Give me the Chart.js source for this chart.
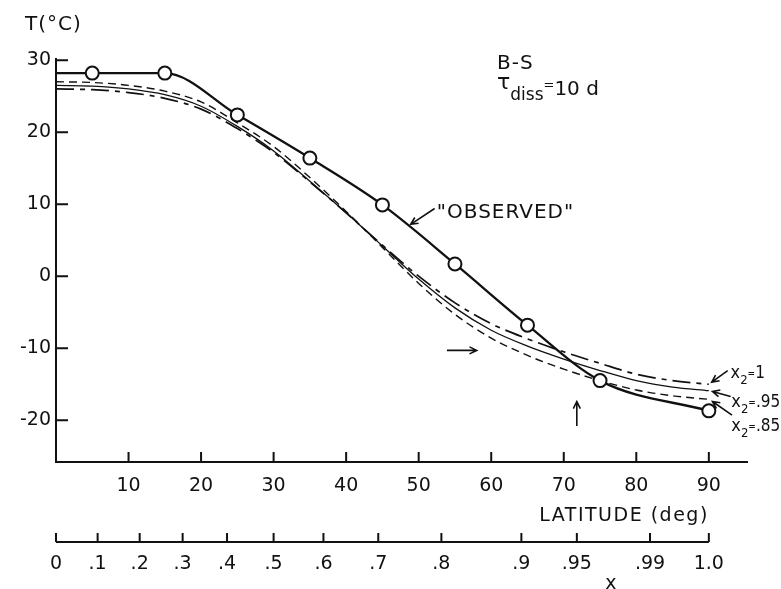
<!DOCTYPE html>
<html>
<head>
<meta charset="utf-8">
<script src="https://cdn.jsdelivr.net/npm/chart.js@4.4.1/dist/chart.umd.min.js"></script>
<style>
    html, body { margin: 0; background: #fff; }
    canvas { display: block; }
</style>
</head>
<body>
<canvas id="tempChart" width="781" height="589"></canvas>
<script>
// zonal mean surface temperature vs latitude
const latObserved = [0, 5, 15, 25, 35, 45, 55, 65, 75, 90];
const tempObserved = [28.2, 28.2, 28.2, 22.4, 16.4, 9.9, 1.7, -6.8, -14.5, -18.7];

const latModel = [0, 5, 10, 15, 20, 25, 30, 35, 40, 45, 50, 55, 60, 65, 70, 75, 80, 85, 90];
const tempX2_100 = [26.0, 25.9, 25.5, 24.7, 23.2, 20.5, 17.2, 13.1, 8.8, 4.3, 0.0, -3.7, -6.6, -8.7, -10.5, -12.1, -13.6, -14.5, -15.0];
const tempX2_95 = [26.5, 26.4, 26.0, 25.2, 23.6, 20.8, 17.4, 13.2, 8.8, 4.2, -0.4, -4.4, -7.5, -9.7, -11.5, -13.1, -14.5, -15.4, -15.9];
const tempX2_85 = [27.0, 26.9, 26.5, 25.7, 24.2, 21.3, 18.0, 13.7, 9.0, 4.0, -1.0, -5.3, -8.6, -11.0, -12.9, -14.5, -15.8, -16.6, -17.1];

const tempTicks = [-20, -10, 0, 10, 20, 30];
const latTicks = [10, 20, 30, 40, 50, 60, 70, 80, 90];
const sinTicks = [0, 0.1, 0.2, 0.3, 0.4, 0.5, 0.6, 0.7, 0.8, 0.9, 0.95, 0.99, 1.0];
const sinTickLabels = ['0', '.1', '.2', '.3', '.4', '.5', '.6', '.7', '.8', '.9', '.95', '.99', '1.0'];

const INK = '#111';
const FONT = "'DejaVu Sans', sans-serif";
const NARROW = "'DejaVu Sans Condensed', 'Liberation Sans Narrow', 'DejaVu Sans', sans-serif";

const toPoints = (xs, ys) => xs.map((x, i) => ({ x, y: ys[i] }));
const asinDeg = (s) => (Math.asin(s) * 180) / Math.PI;

function arrow(ctx, x0, y0, x1, y1, head) {
    const ang = Math.atan2(y1 - y0, x1 - x0);
    ctx.beginPath();
    ctx.moveTo(x0, y0);
    ctx.lineTo(x1, y1);
    ctx.moveTo(x1 - head * Math.cos(ang - 0.45), y1 - head * Math.sin(ang - 0.45));
    ctx.lineTo(x1, y1);
    ctx.lineTo(x1 - head * Math.cos(ang + 0.45), y1 - head * Math.sin(ang + 0.45));
    ctx.stroke();
}

// text pieces: [text, size, dy]
function drawParts(ctx, parts, x, y, family) {
    let cx = x;
    parts.forEach(([text, size, dy]) => {
        ctx.font = size + 'px ' + (family || FONT);
        ctx.fillText(text, cx, y + dy);
        cx += ctx.measureText(text).width;
    });
}

const framePlugin = {
    id: 'frame',
    afterDatasetsDraw(chart) {
        const { ctx, chartArea: a, scales } = chart;
        const { x, x2, y } = scales;
        const P = (lat, t) => [x.getPixelForValue(lat), y.getPixelForValue(t)];

        ctx.save();
        ctx.strokeStyle = INK;
        ctx.fillStyle = INK;
        ctx.lineWidth = 2;

        // main axes with inward ticks
        ctx.beginPath();
        ctx.moveTo(a.left, a.top);
        ctx.lineTo(a.left, a.bottom);
        ctx.lineTo(a.right, a.bottom);
        tempTicks.forEach((v) => {
            const py = y.getPixelForValue(v);
            ctx.moveTo(a.left, py);
            ctx.lineTo(a.left + 12, py);
        });
        latTicks.forEach((v) => {
            const px = x.getPixelForValue(v);
            ctx.moveTo(px, a.bottom);
            ctx.lineTo(px, a.bottom - 10);
        });
        ctx.stroke();

        // x = sin(latitude) axis
        const base = x2.top;
        ctx.beginPath();
        ctx.moveTo(x2.getPixelForValue(0), base);
        ctx.lineTo(x2.getPixelForValue(90), base);
        sinTicks.forEach((s) => {
            const px = x2.getPixelForValue(asinDeg(s));
            ctx.moveTo(px, base);
            ctx.lineTo(px, base - 9);
        });
        ctx.stroke();

        // axis titles
        ctx.textBaseline = 'alphabetic';
        ctx.letterSpacing = '1px';
        ctx.textAlign = 'left';
        ctx.font = '20px ' + FONT;
        ctx.fillText('T(°C)', a.left - 31, a.top - 28);
        ctx.textAlign = 'right';
        ctx.letterSpacing = '1.5px';
        ctx.font = '19px ' + FONT;
        ctx.fillText('LATITUDE (deg)', x.getPixelForValue(90), x.top + 59);
        ctx.letterSpacing = '0px';
        ctx.textAlign = 'center';
        ctx.fillText('x', x2.getPixelForValue(76.5), x2.top + 47);

        // annotations
        ctx.textAlign = 'left';
        ctx.letterSpacing = '1px';
        let [px, py] = P(60.8, 28.75);
        ctx.font = '20px ' + FONT;
        ctx.fillText('B-S', px, py);
        ctx.letterSpacing = '0px';
        [px, py] = P(60.8, 26.0);
        drawParts(ctx, [['τ', 22, 0], ['diss', 17, 11], ['=', 13, 0], ['10 d', 20, 6]], px, py);

        ctx.letterSpacing = '1px';
        [px, py] = P(52.5, 8.05);
        ctx.font = '20px ' + FONT;
        ctx.fillText('"OBSERVED"', px, py);
        ctx.letterSpacing = '0px';

        ctx.lineWidth = 1.6;
        const arrows = [
            [52.2, 9.4, 48.9, 7.2],
            [53.9, -10.3, 58.0, -10.3],
            [71.8, -20.8, 71.8, -17.4],
            [92.6, -13.1, 90.4, -14.7],
            [93.0, -16.7, 90.5, -16.0],
            [93.2, -19.3, 90.5, -17.4]
        ];
        arrows.forEach(([l0, t0, l1, t1]) => {
            const [x0, y0] = P(l0, t0);
            const [x1, y1] = P(l1, t1);
            arrow(ctx, x0, y0, x1, y1, 8);
        });

        const curveLabels = [
            [93.0, -14.2, '1'],
            [93.1, -18.1, '.95'],
            [93.1, -21.5, '.85']
        ];
        curveLabels.forEach(([lat, t, val]) => {
            const [lx, ly] = P(lat, t);
            drawParts(ctx, [['x', 18, 0], ['2', 13, 6], ['=', 10, -1], [val, 17, 0]], lx, ly, NARROW);
        });

        ctx.restore();
    }
};

const tickFont = { family: FONT, size: 19 };

new Chart(document.getElementById('tempChart'), {
    type: 'line',
    data: {
        datasets: [
            {
                label: 'Observed',
                data: toPoints(latObserved, tempObserved),
                borderColor: INK,
                borderWidth: 2.3,
                pointRadius: latObserved.map((v) => (v === 0 ? 0 : 6.5)),
                pointBackgroundColor: '#fff',
                pointBorderColor: INK,
                pointBorderWidth: 2,
                cubicInterpolationMode: 'monotone'
            },
            {
                label: 'x2 = 1',
                data: toPoints(latModel, tempX2_100),
                borderColor: INK,
                borderWidth: 1.7,
                borderDash: [18, 6, 5, 6],
                pointRadius: 0,
                cubicInterpolationMode: 'monotone'
            },
            {
                label: 'x2 = .95',
                data: toPoints(latModel, tempX2_95),
                borderColor: INK,
                borderWidth: 1.3,
                pointRadius: 0,
                cubicInterpolationMode: 'monotone'
            },
            {
                label: 'x2 = .85',
                data: toPoints(latModel, tempX2_85),
                borderColor: INK,
                borderWidth: 1.4,
                borderDash: [8, 5],
                pointRadius: 0,
                cubicInterpolationMode: 'monotone'
            }
        ]
    },
    options: {
        responsive: false,
        animation: false,
        devicePixelRatio: 1,
        layout: { padding: { left: 0, right: 33, top: 58, bottom: 0 } },
        plugins: { legend: { display: false }, tooltip: { enabled: false } },
        scales: {
            x: {
                type: 'linear',
                position: 'bottom',
                min: 0,
                max: 95.4,
                grid: { display: false, drawTicks: false },
                border: { display: false },
                ticks: { color: INK, font: tickFont, padding: 13, maxRotation: 0, autoSkip: false },
                afterBuildTicks: (s) => { s.ticks = latTicks.map((v) => ({ value: v })); },
                afterFit: (s) => { s.height = 80; }
            },
            x2: {
                type: 'linear',
                position: 'bottom',
                min: 0,
                max: 95.4,
                grid: { display: false, drawTicks: false },
                border: { display: false },
                ticks: {
                    color: INK,
                    font: tickFont,
                    padding: 11,
                    maxRotation: 0,
                    autoSkip: false,
                    callback: (v, i) => sinTickLabels[i]
                },
                afterBuildTicks: (s) => { s.ticks = sinTicks.map((v) => ({ value: asinDeg(v) })); },
                afterFit: (s) => { s.height = 47; }
            },
            y: {
                type: 'linear',
                min: -25.8,
                max: 30.3,
                grid: { display: false, drawTicks: false },
                border: { display: false },
                ticks: { color: INK, font: tickFont, padding: 5 },
                afterBuildTicks: (s) => { s.ticks = tempTicks.map((v) => ({ value: v })); },
                afterFit: (s) => { s.width = 56; }
            }
        }
    },
    plugins: [framePlugin]
});
</script>
</body>
</html>
